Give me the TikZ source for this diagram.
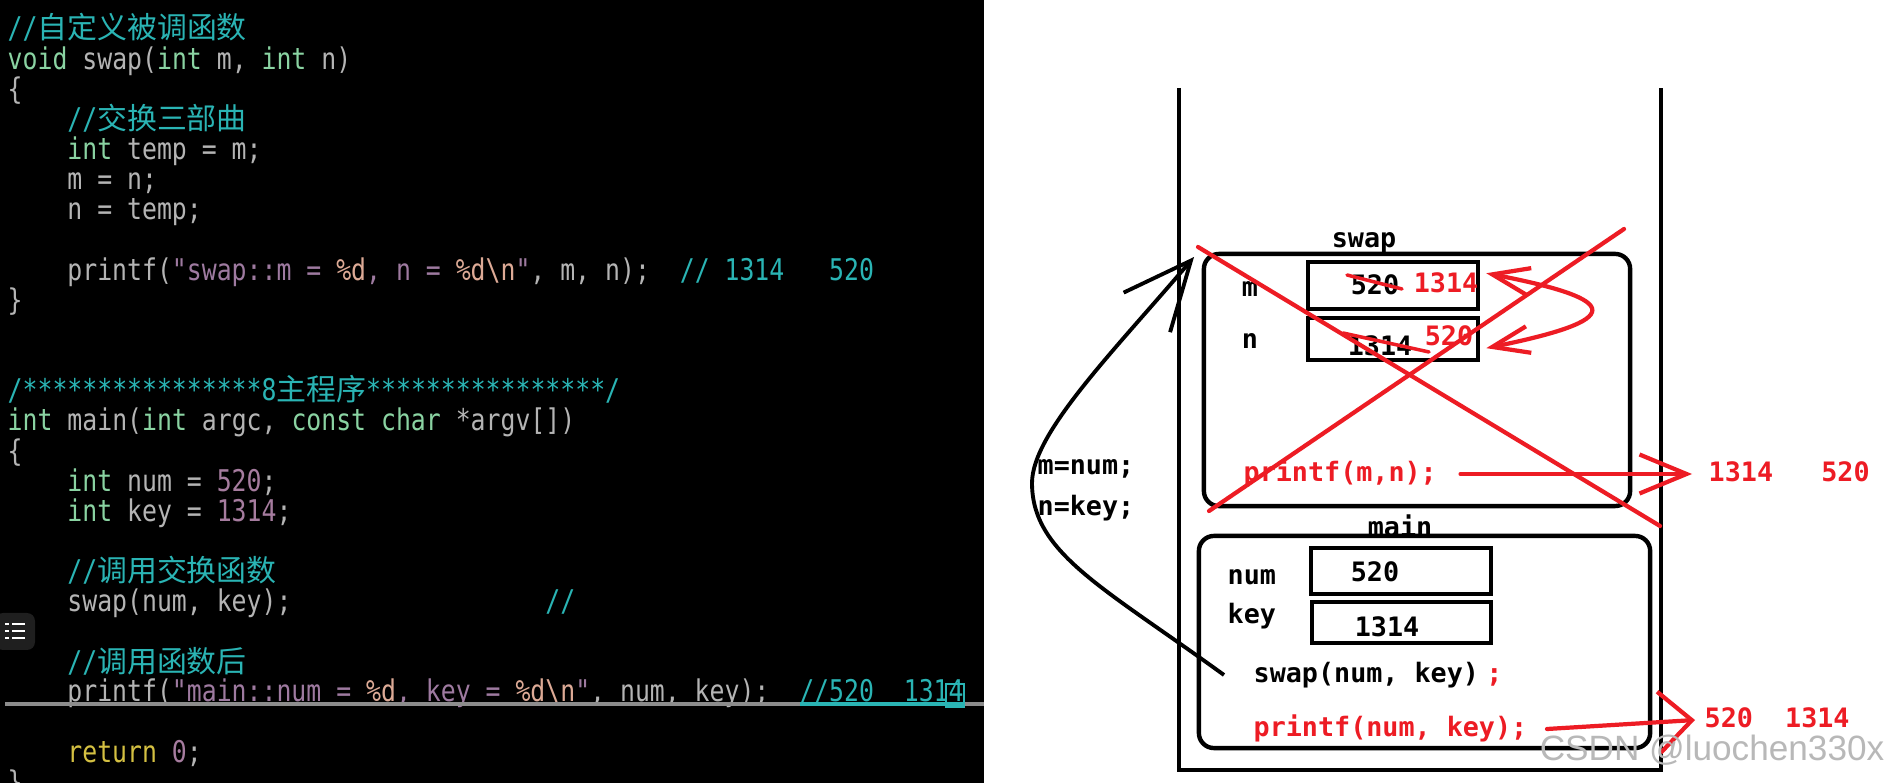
\documentclass[tikz,border=0pt]{standalone}
\usepackage{fontspec}
\usetikzlibrary{positioning, arrows.meta}
\setmonofont[FakeStretch=0.83]{DejaVu Sans Mono}
\newfontfamily\zhfont{Noto Sans CJK SC}
\newfontfamily\paintfont{DejaVu Sans Mono}
\newfontfamily\markfont{Liberation Sans}
\definecolor{cPlain}{HTML}{B4B4B4}
\definecolor{cCmt}{HTML}{2AB4B4}
\definecolor{cType}{HTML}{8AD3A2}
\definecolor{cNum}{HTML}{A67C9F}
\definecolor{cStr}{HTML}{9E7AA0}
\definecolor{cFmt}{HTML}{DDAA96}
\definecolor{cRet}{HTML}{D4C042}
\definecolor{cLine}{HTML}{8C8C8C}
\definecolor{cRed}{HTML}{ED1C24}
\tikzset{
  codeline/.style={
    anchor=west, inner sep=0pt, text=cPlain,
    font=\ttfamily\fontsize{8.5pt}{10pt}\selectfont,
    text height=2.2mm, text depth=0.7mm
  },
  paintext/.style={
    inner sep=0pt, text=black,
    font=\paintfont\bfseries\fontsize{7.6pt}{9pt}\selectfont,
    text height=2mm, text depth=0.5mm
  },
  paintred/.style={paintext, text=cRed},
  stackframe/.style={draw, line width=1.25pt, rounded corners=1.5mm, inner sep=0pt},
  valbox/.style={draw, line width=1.25pt, inner sep=0pt},
  redpen/.style={draw=cRed, line width=1.2pt, line cap=round}
}
\newcommand{\kwd}[1]{\textcolor{cType}{#1}}
\newcommand{\cmt}[1]{\textcolor{cCmt}{#1}}
\newcommand{\lit}[1]{\textcolor{cNum}{#1}}
\newcommand{\strg}[1]{\textcolor{cStr}{#1}}
\newcommand{\fmt}[1]{\textcolor{cFmt}{#1}}
\newcommand{\rtn}[1]{\textcolor{cRet}{#1}}
\newcommand{\zh}[1]{{\zhfont #1}}

\begin{document}
\begin{tikzpicture}[x=0.01cm, y=-0.01cm]
  \useasboundingbox (0,0) rectangle (1886,783);
  \fill[white] (0,0) rectangle (1886,783);
  \fill[black] (0,0) rectangle (984,783);

  % code panel
  \node[codeline] (c1) at (7,31.5) {\cmt{//\zh{自定义被调函数}}};
  \node[codeline] (c2) at (7,61.6) {\kwd{void} swap(\kwd{int} m, \kwd{int} n)};
  \node[codeline] (c3) at (7,91.8) {\{};
  \node[codeline] (c4) at (66.7,122) {\cmt{//\zh{交换三部曲}}};
  \node[codeline] (c5) at (66.7,152.1) {\kwd{int} temp = m;};
  \node[codeline] (c6) at (66.7,182.2) {m = n;};
  \node[codeline] (c7) at (66.7,212.4) {n = temp;};
  \node[codeline] (c9) at (66.7,272.7) {printf(\strg{"swap::m = }\fmt{\%d}\strg{, n = }\fmt{\%d\textbackslash n}\strg{"}, m, n);\ \ \cmt{//\ 1314\ \ \ 520}};
  \node[codeline] (c10) at (7,302.8) {\}};
  \node[codeline] (c13) at (7,393.3) {\cmt{/****************8\zh{主程序}****************/}};
  \node[codeline] (c14) at (7,423.4) {\kwd{int} main(\kwd{int} argc, \kwd{const} \kwd{char} *argv[])};
  \node[codeline] (c15) at (7,453.6) {\{};
  \node[codeline] (c16) at (66.7,483.7) {\kwd{int} num = \lit{520};};
  \node[codeline] (c17) at (66.7,513.9) {\kwd{int} key = \lit{1314};};
  \node[codeline] (c19) at (66.7,574.2) {\cmt{//\zh{调用交换函数}}};
  \node[codeline] (c20) at (66.7,604.3) {swap(num, key);\phantom{00000000000000000}\cmt{//}};
  \node[codeline] (c22) at (66.7,664.6) {\cmt{//\zh{调用函数后}}};
  \node[codeline] (c23) at (66.7,693.8) {printf(\strg{"main::num = }\fmt{\%d}\strg{, key = }\fmt{\%d\textbackslash n}\strg{"}, num, key);\ \ \cmt{//520\ \ 1314}};
  \node[codeline] (c25) at (66.7,755.1) {\rtn{return} \lit{0};};
  \node[codeline] (c26) at (7,785.2) {\}};
  \draw[cLine, line width=0.9pt] (5,704) -- (984,704);
  \draw[cCmt, line width=0.9pt] (800,704) -- (963,704);
  \draw[cCmt, line width=0.5pt] (946,684) rectangle (964,707);
  \fill[white!12!black, rounded corners=0.8mm] (-5,613) rectangle (35,650);
  \foreach \r in {624,631,638} {
    \fill[white] (5,\r-1.3) rectangle (9,\r+1.3);
    \fill[white] (12,\r-1.3) rectangle (25,\r+1.3);
  }

  % stack
  \draw[line width=1.25pt] (1179,88) -- (1179,770) -- (1661,770) -- (1661,88);

  \node[paintext] (swaplbl) at (1364,240) {swap};
  \node[stackframe, minimum width=42.6mm, minimum height=25.2mm] (swapbox) at (1417,380) {};
  \node[valbox, minimum width=17mm, minimum height=4.7mm] (mbox) at (1393,285.5) {};
  \node[valbox, minimum width=17mm, minimum height=4.2mm] (nbox) at (1393,339) {};
  \node[paintext] (mlbl) at (1250,289) {m};
  \node[paintext] (nlbl) at (1250,341) {n};
  \node[paintext] (mold) at (1375,287) {520};
  \node[paintred] (mnew) at (1446,285) {1314};
  \node[paintext] (nold) at (1380,348) {1314};
  \node[paintred] (nnew) at (1449,338) {520};
  \node[paintred, anchor=west] (swapprint) at (1243,474) {printf(m,n);};
  \node[paintred, anchor=west] (swapout) at (1708,474) {1314\ \ \ 520};

  \node[paintext] (mainlbl) at (1400,529) {main};
  \node[stackframe, minimum width=45.1mm, minimum height=21.2mm] (mainbox) at (1424.5,642) {};
  \node[valbox, minimum width=18mm, minimum height=4.6mm] (numbox) at (1401,571) {};
  \node[valbox, minimum width=17.9mm, minimum height=4.1mm] (keybox) at (1401.5,622.5) {};
  \node[paintext, anchor=west] (numlbl) at (1227,577) {num};
  \node[paintext, anchor=west] (keylbl) at (1227,616) {key};
  \node[paintext] (numval) at (1375,574) {520};
  \node[paintext] (keyval) at (1387,629) {1314};
  \node[paintext, anchor=west] (swapcall) at (1253,675) {swap(num, key)};
  \node[paintred, right=0.6mm of swapcall] (callsemi) {;};
  \node[paintred, anchor=west] (mainprint) at (1253,729) {printf(num, key);};
  \node[paintred, anchor=west] (mainout) at (1704,720) {520\ \ 1314};

  \node[paintext, anchor=west] (argm) at (1037,467) {m=num;};
  \node[paintext, anchor=west] (argn) at (1037,508) {n=key;};

  % call arrow
  \coordinate (calltip) at (1194,257);
  \draw[line width=1.1pt, -{Straight Barb[length=6.8mm, width=6.1mm]}]
    ([xshift=-2.9mm]swapcall.west) .. controls (1103,587) and (1032,553) .. (1032,483)
    .. controls (1032,433) and (1114,351) .. (calltip);

  % red marks
  \draw[redpen, line width=1pt] (1347,275) -- (1402,289);
  \draw[redpen, line width=1pt] (1343,333) -- (1429,352);
  \draw[redpen, {Straight Barb[length=3.7mm, width=2.7mm]}-{Straight Barb[length=3.7mm, width=2.7mm]}]
    ([xshift=0.6mm]mbox.8) .. controls (1625,300) and (1625,320) .. ([xshift=0.6mm]nbox.-6);
  \draw[redpen] (1198,247) -- (1660,526);
  \draw[redpen] (1624,229) -- (1209,511);
  \draw[redpen, -{Straight Barb[length=4.7mm, width=3.9mm]}] ([xshift=2.3mm]swapprint.east) -- ([xshift=-1.6mm]swapout.west);
  \draw[redpen, -{Straight Barb[length=3.3mm, width=6.1mm]}] ([xshift=1.9mm]mainprint.east) -- ([xshift=-0.9mm]mainout.west);

  \node[font=\markfont\fontsize{10pt}{12pt}\selectfont, text=black!28, anchor=east, inner sep=0pt] (mark) at (1885,750) {CSDN @luochen330x};
\end{tikzpicture}
\end{document}
